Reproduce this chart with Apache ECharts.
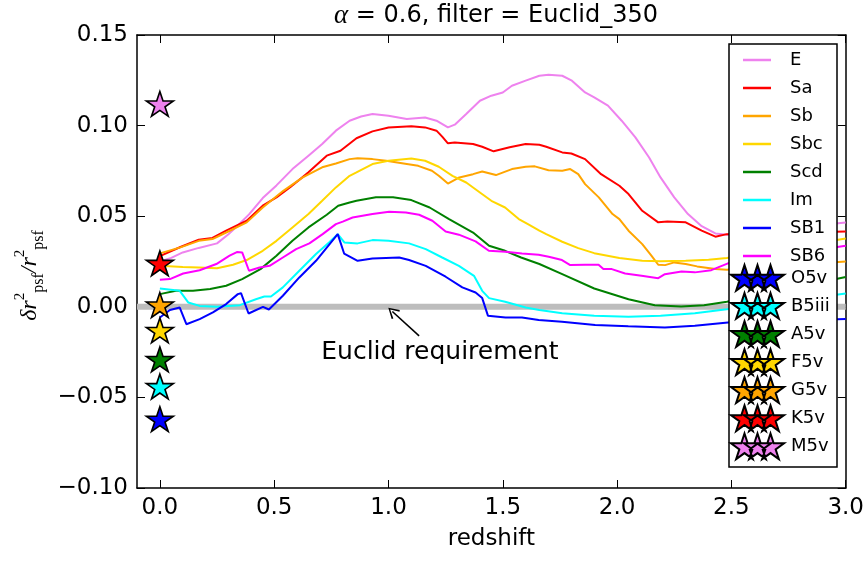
<!DOCTYPE html>
<html><head><meta charset="utf-8">
<script src="https://cdn.jsdelivr.net/npm/echarts@6/dist/echarts.min.js"></script>
<style>html,body{margin:0;padding:0;background:#fff}#c{width:867px;height:561px}</style>
</head><body><div id="c"></div>
<script>
// ---------------- data ----------------
const xTicks = [0, 0.5, 1.0, 1.5, 2.0, 2.5, 3.0];
const galaxyNames = ['E', 'Sa', 'Sb', 'Sbc', 'Scd', 'Im', 'SB1', 'SB6'];
const galaxyColors = ['#ee82ee', '#ff0000', '#ffa500', '#ffd700', '#008000', '#00ffff', '#0000ff', '#ff00ff'];

const E = [[0,0.025],[0.05,0.027],[0.10,0.030],[0.17,0.0325],[0.25,0.035],[0.30,0.040],[0.35,0.046],[0.39,0.051],[0.45,0.060],[0.51,0.067],[0.58,0.076],[0.65,0.0834],[0.71,0.0898],[0.77,0.0972],[0.83,0.1027],[0.88,0.105],[0.93,0.1064],[1.00,0.1054],[1.08,0.1036],[1.16,0.1045],[1.21,0.1027],[1.26,0.099],[1.29,0.1005],[1.34,0.1064],[1.40,0.1137],[1.45,0.1165],[1.50,0.1183],[1.54,0.122],[1.60,0.1248],[1.66,0.1275],[1.70,0.128],[1.76,0.1275],[1.80,0.125],[1.86,0.1183],[1.90,0.1156],[1.96,0.111],[2.02,0.1027],[2.08,0.0935],[2.14,0.0824],[2.19,0.0714],[2.25,0.0604],[2.31,0.0512],[2.37,0.0445],[2.43,0.0405],[2.48,0.0398],[3.0,0.0465]];
const Sa = [[0,0.028],[0.09,0.033],[0.17,0.037],[0.23,0.038],[0.29,0.042],[0.38,0.0475],[0.45,0.0558],[0.51,0.0604],[0.57,0.066],[0.65,0.0742],[0.73,0.0834],[0.79,0.0861],[0.86,0.093],[0.93,0.0968],[1.00,0.099],[1.10,0.0997],[1.16,0.099],[1.21,0.0972],[1.235,0.0939],[1.26,0.0902],[1.29,0.0907],[1.37,0.0898],[1.41,0.0883],[1.46,0.0858],[1.53,0.088],[1.60,0.0898],[1.66,0.0894],[1.69,0.0883],[1.76,0.0852],[1.80,0.0846],[1.86,0.0815],[1.93,0.0732],[2.01,0.0668],[2.05,0.0622],[2.11,0.053],[2.18,0.0466],[2.22,0.0471],[2.30,0.0466],[2.37,0.042],[2.43,0.0387],[2.48,0.0401],[3.0,0.0416]];
const Sb = [[0,0.0295],[0.09,0.0328],[0.17,0.0364],[0.23,0.0374],[0.29,0.041],[0.38,0.0466],[0.45,0.0548],[0.54,0.064],[0.625,0.0714],[0.71,0.077],[0.77,0.0791],[0.83,0.0815],[0.865,0.082],[0.93,0.0815],[0.99,0.0806],[1.08,0.0788],[1.13,0.0778],[1.19,0.0751],[1.22,0.0723],[1.26,0.068],[1.31,0.0714],[1.37,0.0732],[1.41,0.0747],[1.47,0.0727],[1.54,0.076],[1.60,0.0773],[1.64,0.0775],[1.70,0.0754],[1.76,0.0751],[1.795,0.076],[1.83,0.0732],[1.86,0.0677],[1.92,0.0604],[1.98,0.0512],[2.01,0.0484],[2.05,0.042],[2.11,0.0346],[2.15,0.0282],[2.18,0.0232],[2.21,0.023],[2.25,0.0245],[2.30,0.0236],[2.35,0.0223],[2.43,0.0208],[2.48,0.0204],[3.0,0.025]];
const Sbc = [[0,0.0226],[0.10,0.022],[0.17,0.0217],[0.25,0.0213],[0.32,0.0232],[0.38,0.0258],[0.45,0.0309],[0.51,0.0364],[0.58,0.0438],[0.65,0.0512],[0.71,0.0585],[0.77,0.0659],[0.83,0.0723],[0.86,0.0742],[0.93,0.0788],[1.00,0.0806],[1.10,0.0819],[1.16,0.0806],[1.22,0.0773],[1.28,0.0723],[1.34,0.0686],[1.40,0.0631],[1.45,0.0585],[1.51,0.0548],[1.57,0.0484],[1.61,0.0456],[1.66,0.042],[1.69,0.0401],[1.76,0.0359],[1.83,0.0324],[1.90,0.0296],[2.01,0.0269],[2.11,0.0254],[2.19,0.0251],[2.30,0.0254],[2.40,0.0259],[2.48,0.0269],[3.0,0.0377]];
const Scd = [[0,0.007],[0.07,0.0088],[0.145,0.0088],[0.22,0.0098],[0.29,0.0116],[0.36,0.0153],[0.44,0.0208],[0.51,0.0282],[0.58,0.0364],[0.65,0.0438],[0.73,0.0508],[0.78,0.0558],[0.83,0.0576],[0.86,0.0585],[0.945,0.0604],[1.02,0.0604],[1.10,0.0589],[1.18,0.0548],[1.265,0.0484],[1.37,0.041],[1.44,0.0337],[1.51,0.0309],[1.58,0.0272],[1.66,0.0236],[1.76,0.018],[1.90,0.0101],[2.05,0.0042],[2.165,0.0009],[2.28,0.0002],[2.38,0.0009],[2.48,0.0028],[3.0,0.0164]];
const Im = [[0,0.0101],[0.087,0.0088],[0.124,0.0024],[0.174,0.0005],[0.25,0.0],[0.35,0.0009],[0.42,0.0042],[0.457,0.0057],[0.486,0.0057],[0.538,0.0107],[0.61,0.0199],[0.683,0.0291],[0.74,0.0355],[0.778,0.0401],[0.807,0.0355],[0.865,0.035],[0.93,0.0368],[1.00,0.0364],[1.09,0.035],[1.163,0.0318],[1.235,0.0272],[1.308,0.0226],[1.374,0.0171],[1.41,0.0088],[1.44,0.0048],[1.51,0.0028],[1.60,-0.0004],[1.66,-0.0018],[1.76,-0.0035],[1.90,-0.005],[2.05,-0.0055],[2.19,-0.005],[2.34,-0.0035],[2.48,-0.0013],[3.0,0.0074]];
const SB1 = [[0,-0.0059],[0.044,-0.0018],[0.087,-0.0004],[0.116,-0.0096],[0.174,-0.0068],[0.232,-0.0031],[0.29,0.0015],[0.341,0.007],[0.355,0.0075],[0.388,-0.0037],[0.451,0.0],[0.477,-0.0015],[0.538,0.0061],[0.61,0.0162],[0.683,0.0254],[0.778,0.0401],[0.806,0.0294],[0.865,0.0254],[0.93,0.0267],[1.047,0.0272],[1.09,0.0258],[1.163,0.0226],[1.25,0.0166],[1.323,0.0107],[1.381,0.0079],[1.41,0.0048],[1.435,-0.0049],[1.512,-0.0059],[1.584,-0.0059],[1.657,-0.0073],[1.759,-0.0082],[1.904,-0.01],[2.049,-0.0108],[2.209,-0.0114],[2.34,-0.0105],[2.485,-0.0086],[3.0,-0.0068]];
const SB6 = [[0,0.0149],[0.044,0.0153],[0.102,0.0184],[0.174,0.0202],[0.247,0.0236],[0.305,0.0282],[0.337,0.0302],[0.36,0.030],[0.39,0.0199],[0.436,0.0217],[0.48,0.0226],[0.538,0.0272],[0.596,0.0318],[0.654,0.035],[0.712,0.0401],[0.77,0.0456],[0.80,0.047],[0.843,0.0493],[0.93,0.0512],[1.003,0.0525],[1.076,0.0521],[1.134,0.0508],[1.192,0.0475],[1.25,0.0416],[1.308,0.0398],[1.381,0.0361],[1.439,0.0309],[1.512,0.0304],[1.584,0.0294],[1.657,0.0287],[1.701,0.0276],[1.759,0.0258],[1.795,0.023],[1.86,0.0232],[1.919,0.0232],[1.94,0.0208],[1.977,0.0208],[2.035,0.0184],[2.107,0.0171],[2.18,0.0158],[2.209,0.018],[2.282,0.0195],[2.34,0.019],[2.412,0.0202],[2.485,0.024],[3.0,0.0337]];
const galaxySeries = [E, Sa, Sb, Sbc, Scd, Im, SB1, SB6];

const starNames = ['O5v', 'B5iii', 'A5v', 'F5v', 'G5v', 'K5v', 'M5v'];
const starValues = [-0.062, -0.044, -0.029, -0.013, 0.001, 0.024, 0.112];
const starColors = ['#0000ff', '#00ffff', '#008000', '#ffd700', '#ffa500', '#ff0000', '#ee82ee'];
const starRedshift = 0;

const requirementLine = [[-0.1, 0], [3.0, 0]];
const arrowTail = [1.134, -0.016];
const arrowHead = [1.017, -0.0026];
const annotationPos = [1.225, -0.0252];
const annotationText = 'Euclid requirement';

// ---------------- style ----------------
const FONT = 'DejaVu Sans';
const SERIF = 'Liberation Serif';
const LEGEND_BOX = {x: 729, y: 44, width: 108, height: 423};
const starPts = [[0,-10],[2.245,-3.09],[9.511,-3.09],[3.633,1.18],[5.878,8.09],[0,3.82],[-5.878,8.09],[-3.633,1.18],[-9.511,-3.09],[-2.245,-3.09]];
function starSub(dx) {
  return 'M' + starPts.map(p => (p[0] + dx).toFixed(3) + ',' + p[1]).join('L') + 'Z';
}
const STAR = 'path://' + starSub(0);
const STAR3 = 'path://' + starSub(0) + starSub(9.16) + starSub(18.32);

const chart = echarts.init(document.getElementById('c'), null, {renderer: 'canvas', width: 867, height: 561});

const series = [];
series.push({
  type: 'line', name: 'requirement', data: requirementLine, symbol: 'none', silent: true, z: 1,
  lineStyle: {color: '#bdbdbd', width: 6},
  markLine: {
    silent: true, symbol: ['none', 'path://M0,0L6,10L4.6,11L0,2.6L-4.6,11L-6,10Z'], symbolSize: [12, 11],
    label: {show: false},
    lineStyle: {color: '#000', width: 1.6, type: 'solid'},
    data: [[{coord: arrowTail}, {coord: arrowHead}]]
  },
  markPoint: {
    silent: true, symbol: 'circle', symbolSize: 1, itemStyle: {color: 'rgba(0,0,0,0)'},
    label: {show: true, position: 'inside', formatter: annotationText, color: '#000', fontFamily: FONT, fontSize: 25},
    data: [{coord: annotationPos}]
  }
});
galaxyNames.forEach((n, i) => {
  series.push({
    type: 'line', name: n, data: galaxySeries[i], symbol: 'none', showSymbol: false,
    lineStyle: {color: galaxyColors[i], width: 2}, itemStyle: {color: galaxyColors[i]}, z: 2
  });
});
starNames.forEach((n, i) => {
  series.push({
    type: 'scatter', name: n, data: [[starRedshift, starValues[i]]], symbol: STAR, symbolSize: [27, 26],
    symbolKeepAspect: true,
    itemStyle: {color: starColors[i], borderColor: '#000', borderWidth: 1.6, opacity: 1}, z: 3
  });
});
// legend frame (white box above the curves, below the legend items)
series.push({
  type: 'custom', name: 'legendFrame', coordinateSystem: 'none', silent: true, z: 3.5,
  data: [[0]],
  renderItem: () => ({
    type: 'rect',
    shape: {x: LEGEND_BOX.x, y: LEGEND_BOX.y, width: LEGEND_BOX.width, height: LEGEND_BOX.height},
    style: {fill: '#fff', stroke: '#000', lineWidth: 1.5}
  })
});

const axisLineStyle = {color: '#000', width: 1.5};
const option = {
  animation: false,
  backgroundColor: '#fff',
  grid: {left: 137, right: 19, top: 35, bottom: 73, containLabel: false},
  xAxis: [{
    type: 'value', min: -0.1, max: 3.0, position: 'bottom',
    axisLine: {show: true, onZero: false, lineStyle: axisLineStyle},
    axisTick: {show: true, inside: true, length: 8, customValues: xTicks, lineStyle: {color: '#000', width: 1}},
    axisLabel: {customValues: xTicks, formatter: v => v.toFixed(1), fontSize: 23, color: '#000', fontFamily: FONT, margin: 9},
    splitLine: {show: false},
    name: 'redshift', nameLocation: 'middle', nameGap: 40,
    nameTextStyle: {fontSize: 23, color: '#000', fontFamily: FONT}
  }, {
    type: 'value', min: -0.1, max: 3.0, position: 'top',
    axisLine: {show: true, onZero: false, lineStyle: axisLineStyle},
    axisTick: {show: true, inside: true, length: 8, customValues: xTicks, lineStyle: {color: '#000', width: 1}},
    axisLabel: {show: false}, splitLine: {show: false}
  }],
  yAxis: [{
    type: 'value', min: -0.1, max: 0.15, interval: 0.05, position: 'left',
    axisLine: {show: true, onZero: false, lineStyle: axisLineStyle},
    axisTick: {show: true, inside: true, length: 8, lineStyle: {color: '#000', width: 1}},
    axisLabel: {formatter: v => (v < -1e-9 ? '\u2212' : '') + Math.abs(v).toFixed(2), fontSize: 23, color: '#000', fontFamily: FONT, margin: 9},
    splitLine: {show: false},
    name: '{d|\u03b4r}{s|2}{p|psf}{n|/}{d|r}{s|2}{p|psf}',
    nameLocation: 'middle', nameGap: 88, nameRotate: 90,
    nameTextStyle: {
      color: '#000', padding: [0, 28, 0, 0],
      rich: {
        d: {fontFamily: SERIF, fontStyle: 'italic', fontSize: 24, lineHeight: 34, verticalAlign: 'middle', color: '#000'},
        n: {fontFamily: SERIF, fontStyle: 'italic', fontSize: 24, lineHeight: 34, verticalAlign: 'middle', color: '#000'},
        s: {fontFamily: SERIF, fontSize: 15, lineHeight: 34, verticalAlign: 'top', color: '#000'},
        p: {fontFamily: SERIF, fontSize: 16, lineHeight: 34, verticalAlign: 'bottom', color: '#000'}
      }
    }
  }, {
    type: 'value', min: -0.1, max: 0.15, interval: 0.05, position: 'right',
    axisLine: {show: true, onZero: false, lineStyle: axisLineStyle},
    axisTick: {show: true, inside: true, length: 8, lineStyle: {color: '#000', width: 1}},
    axisLabel: {show: false}, splitLine: {show: false}
  }],
  legend: [{
    data: galaxyNames.map((n, i) => ({name: n, icon: 'rect', itemStyle: {color: galaxyColors[i], borderWidth: 0}})),
    orient: 'vertical', left: 743, top: 50, padding: 0, z: 10,
    itemWidth: 28, itemHeight: 2.5, itemGap: 8, selectedMode: false,
    textStyle: {fontFamily: FONT, fontSize: 18, color: '#000', lineHeight: 20, padding: [0, 0, 0, 14]}
  }, {
    data: starNames.map(n => ({name: n, icon: STAR3})), orient: 'vertical', left: 730, top: 264,
    padding: 0, z: 10,
    itemWidth: 53, itemHeight: 26, itemGap: 0.4, selectedMode: false,
    textStyle: {fontFamily: FONT, fontSize: 18, color: '#000', lineHeight: 26, padding: [0, 0, 0, 2]}
  }],
  graphic: [{
    type: 'text', x: 496, y: 16, silent: true,
    style: {
      text: '{a|\u03b1} = 0.6, filter = Euclid_350',
      fontFamily: FONT, fontSize: 24, fill: '#000', align: 'center', verticalAlign: 'middle',
      rich: {a: {fontFamily: SERIF, fontStyle: 'italic', fontSize: 27, fill: '#000'}}
    }
  }],
  series: series
};
chart.setOption(option);
</script>
</body></html>
